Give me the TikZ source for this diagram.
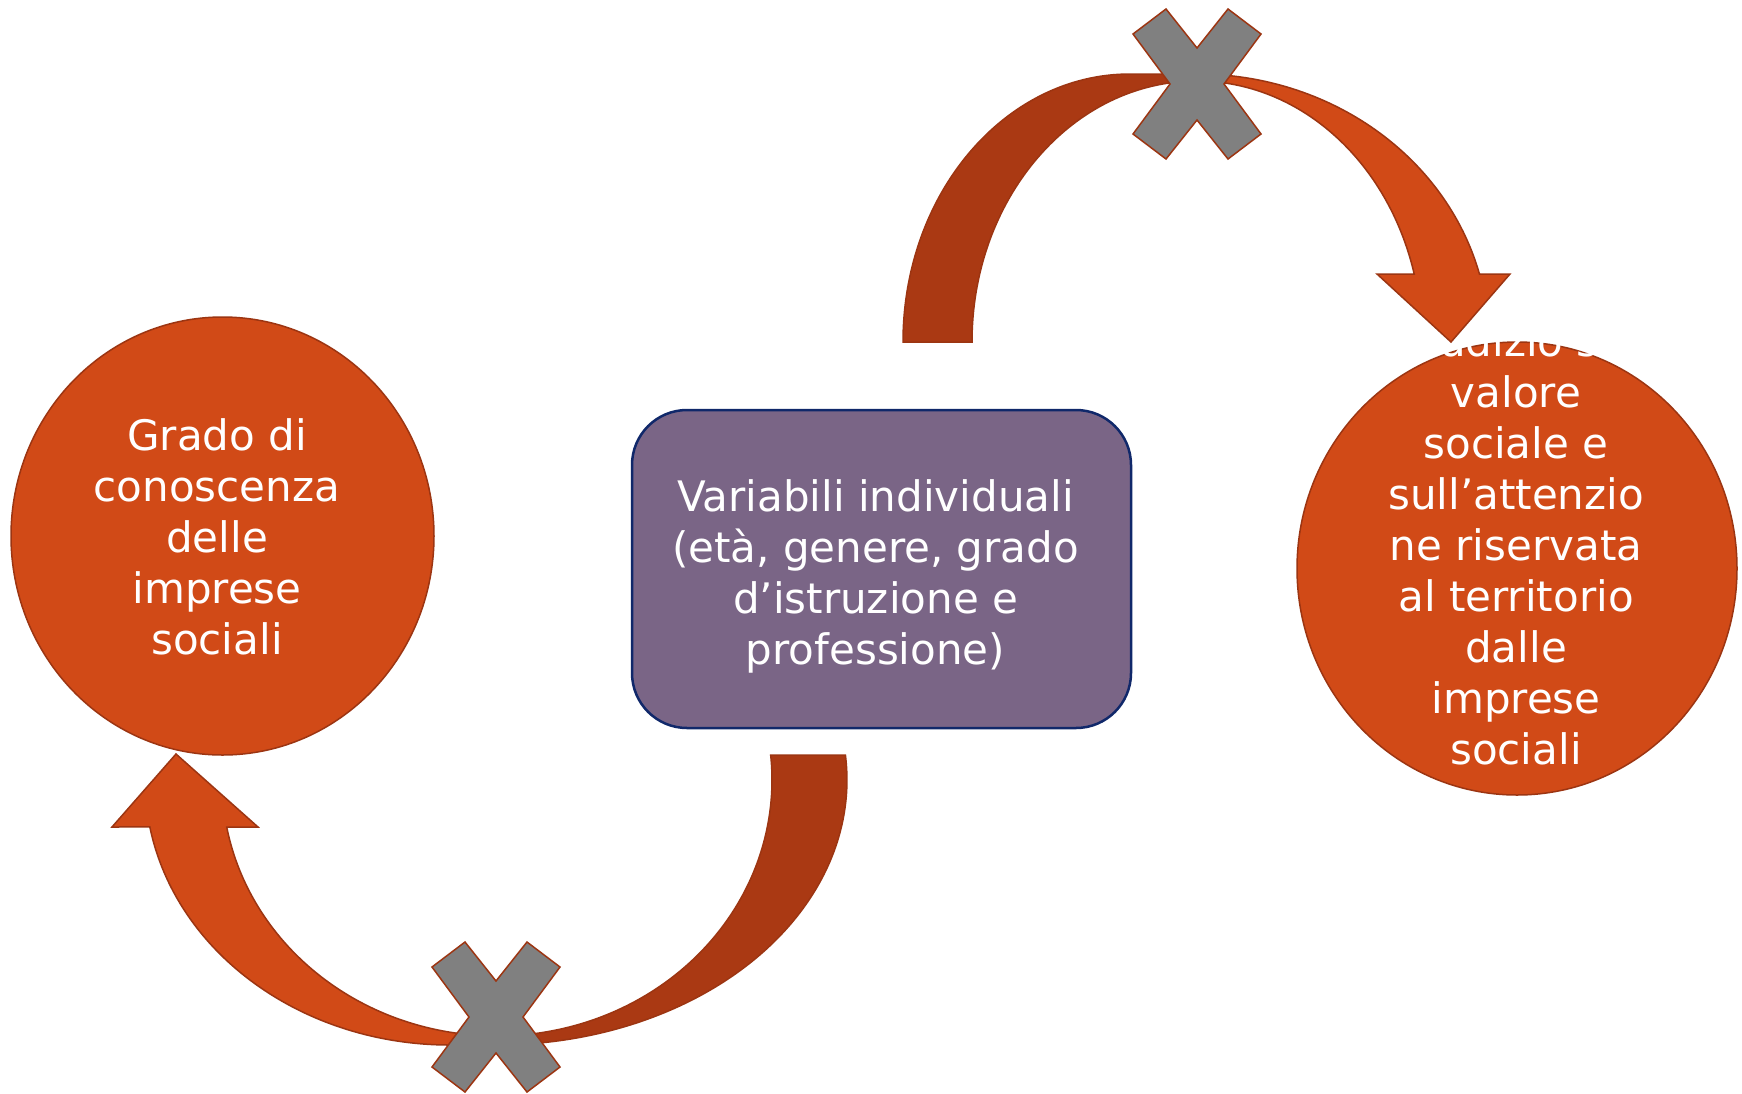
\documentclass[tikz,border=0pt]{standalone}
\usepackage{fontspec}
\setmainfont{DejaVu Sans}
\usepackage{tikz}
\usetikzlibrary{shapes.geometric}
\usepackage{xcolor}
\definecolor{arancio}{HTML}{D14A17}
\definecolor{ruggine}{HTML}{AA3913}
\definecolor{bordo}{HTML}{9C3512}
\definecolor{viola}{HTML}{7A6586}
\definecolor{blu}{HTML}{10286A}
\definecolor{grigio}{HTML}{808080}

\begin{document}
\begin{tikzpicture}[x=1pt, y=-1pt,
        cerchio/.style={ellipse, draw=bordo, line width=1.5pt, fill=arancio, inner sep=0pt},
        testo/.style={text=white, align=center, font=\fontsize{42}{51}\selectfont, inner sep=0pt},
        scatola/.style={rectangle, rounded corners=55pt, draw=blu, line width=2.5pt, fill=viola,
            minimum width=499pt, minimum height=318pt},
        freccia/.style={draw=bordo, line width=1.5pt},
        croce/.style={draw=bordo, line width=1.5pt, fill=grigio}]
            \useasboundingbox (0,0) rectangle (1742,1093);
            \fill[white] (0,0) rectangle (1742,1093);

            \node[cerchio, minimum width=423pt, minimum height=438pt] (grado) at (222.5, 536) {};
            \node[cerchio, minimum width=440pt, minimum height=453pt] (giudizio) at (1517, 568.5) {};
            \node[scatola] (variabili) at (881.5, 569) {};

            \node[testo] (gradoTesto) at (217, 537) {Grado di\\conoscenza\\delle\\imprese\\sociali};
            \node[testo] (giudizioTesto) at (1516, 545) {Giudizio sul\\valore\\sociale e\\sull’attenzio\\ne riservata\\al territorio\\dalle\\imprese\\sociali};
            \node[testo] (variabiliTesto) at (875.5, 576.5) {Variabili individuali\\(età, genere, grado\\d’istruzione e\\professione)};

            \coordinate (puntaSopra) at (1451, 342);
            \coordinate (puntaSotto) at (176, 754);
            \coordinate (croceSopra) at (1197, 84);
            \coordinate (croceSotto) at (496, 1017);

            \draw[freccia, fill=ruggine] (903,342) arc[start angle=180, end angle=270, x radius=227, y radius=268]
                -- (1197,74) -- (1197,81) arc[start angle=270, end angle=180, x radius=225, y radius=261] -- cycle;
            \draw[freccia, fill=arancio] (1197,74) arc[start angle=270, end angle=345.3, x radius=292, y radius=268]
                -- (1510,274) -- (puntaSopra) -- (1377,274)
                -- (1414.2,274) arc[start angle=344.9, end angle=270, x radius=225, y radius=261] -- cycle;

            \draw[freccia, fill=ruggine] (845.4,755) arc[start angle=-5.4, end angle=90, x radius=350, y radius=265]
                -- (497,1036) arc[start angle=90, end angle=-5.6, x radius=275, y radius=256] -- cycle;
            \draw[freccia, fill=arancio] (497,1045) -- (450,1045) arc[start angle=90, end angle=169.8, x radius=305, y radius=265]
                -- (112,827) -- (puntaSotto) -- (258,827)
                -- (226.7,827) arc[start angle=169.4, end angle=90, x radius=275, y radius=256] -- cycle;

            \foreach \c in {croceSopra, croceSotto}
                \draw[croce, shift={(\c)}] (-64,-50) -- (-31,-75) -- (0,-36) -- (31,-75) -- (64,-50) -- (27,0)
                    -- (64,50) -- (31,75) -- (0,36) -- (-31,75) -- (-64,50) -- (-27,0) -- cycle;
        \end{tikzpicture}
\end{document}
